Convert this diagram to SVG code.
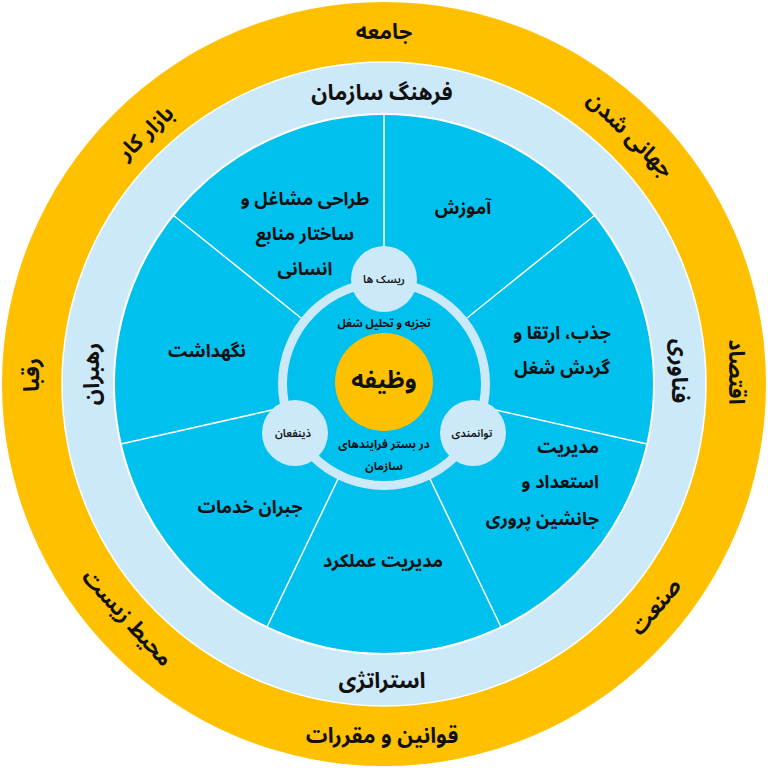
<svg xmlns="http://www.w3.org/2000/svg" width="768" height="768" viewBox="0 0 768 768">
<style>
text { font-family: "Noto Sans Arabic", "Vazirmatn", "DejaVu Sans", sans-serif; fill: #111; text-anchor: middle; dominant-baseline: central; font-weight: bold; }
.outer { font-size: 21.5px; }
.ring { font-size: 22px; }
.seg { font-size: 18px; }
.small { font-size: 11px; font-weight: 600; }
.mid { font-size: 11.5px; }
.core { font-size: 24px; }
.div { stroke: #fff; stroke-width: 1.5; }
.bub { fill: #CCE9FA; }
</style>
<rect width="768" height="768" fill="#fff"/>
<g id="rings">
  <circle cx="384" cy="384" r="382" fill="#FFC000"/>
  <circle cx="384" cy="384" r="322" fill="#CCE9FA" stroke="#fff" stroke-width="1.5"/>
  <circle cx="384" cy="384" r="270" fill="#00C0EE" stroke="#fff" stroke-width="2"/>
</g>
<g id="connectors">
  <line class="div" x1="384" y1="278" x2="384" y2="114"/>
  <line class="div" x1="467" y1="318" x2="595" y2="215"/>
  <line class="div" x1="487" y1="408" x2="647" y2="444"/>
  <line class="div" x1="430" y1="479" x2="501" y2="627"/>
  <line class="div" x1="338" y1="479" x2="267" y2="627"/>
  <line class="div" x1="281" y1="408" x2="121" y2="444"/>
  <line class="div" x1="301" y1="318" x2="173" y2="215"/>
</g>
<g id="inner-ring">
  <circle cx="384" cy="384" r="101.5" fill="none" stroke="#CCE9FA" stroke-width="9"/>
</g>
<g id="core">
  <circle cx="384" cy="382" r="49" fill="#FFC000"/>
  <text class="core" x="384" y="380">وظیفه</text>
</g>
<g id="core-top-label"><text class="mid" x="384" y="323" style="font-size:11px">تجزیه و تحلیل شغل</text></g>
<g id="core-bottom-label">
  <text class="mid" x="384" y="444">در بستر فرایندهای</text>
  <text class="mid" x="384" y="466">سازمان</text>
</g>
<g id="bubble-risks"><circle class="bub" cx="384" cy="279" r="33"/><text class="small" x="384" y="279">ریسک ها</text></g>
<g id="bubble-empowerment"><circle class="bub" cx="473" cy="433" r="33"/><text class="small" x="472" y="433">توانمندی</text></g>
<g id="bubble-stakeholders"><circle class="bub" cx="295" cy="433" r="33"/><text class="small" x="293" y="433">ذینفعان</text></g>

<g id="seg-training"><text class="seg" x="463" y="208">آموزش</text></g>
<g id="seg-attract">
  <text class="seg" x="562" y="333">جذب، ارتقا و</text>
  <text class="seg" x="562" y="368">گردش شغل</text>
</g>
<g id="seg-talent">
  <text class="seg" x="599" y="447" style="text-anchor:end">مدیریت</text>
  <text class="seg" x="599" y="482" style="text-anchor:end">استعداد و</text>
  <text class="seg" x="599" y="519" style="text-anchor:end">جانشین پروری</text>
</g>
<g id="seg-performance"><text class="seg" x="383" y="561">مدیریت عملکرد</text></g>
<g id="seg-compensation"><text class="seg" x="250" y="507">جبران خدمات</text></g>
<g id="seg-retention"><text class="seg" x="207" y="351">نگهداشت</text></g>
<g id="seg-design">
  <text class="seg" x="305" y="199">طراحی مشاغل و</text>
  <text class="seg" x="305" y="234">ساختار منابع</text>
  <text class="seg" x="305" y="269">انسانی</text>
</g>

<g id="ring-culture"><text class="ring" x="382" y="93">فرهنگ سازمان</text></g>
<g id="ring-technology"><text class="ring" transform="translate(679 371) rotate(90)">فناوری</text></g>
<g id="ring-strategy"><text class="ring" x="382" y="681">استراتژی</text></g>
<g id="ring-leaders"><text class="ring" transform="translate(92 374) rotate(-90)">رهبران</text></g>

<g id="outer-society"><text class="outer" x="384" y="32">جامعه</text></g>
<g id="outer-globalization"><text class="outer" transform="translate(630 135) rotate(44.7)">جهانی شدن</text></g>
<g id="outer-economy"><text class="outer" transform="translate(736 372) rotate(90)">اقتصاد</text></g>
<g id="outer-industry"><text class="outer" transform="translate(656 607) rotate(-50.6)">صنعت</text></g>
<g id="outer-laws"><text class="outer" x="382" y="736">قوانین و مقررات</text></g>
<g id="outer-environment"><text class="outer" transform="translate(127 618) rotate(47.7)">محیط زیست</text></g>
<g id="outer-competitors"><text class="outer" transform="translate(32 375) rotate(-90)">رقبا</text></g>
<g id="outer-labor"><text class="outer" transform="translate(146 133) rotate(-43.5)">بازار کار</text></g>
</svg>
